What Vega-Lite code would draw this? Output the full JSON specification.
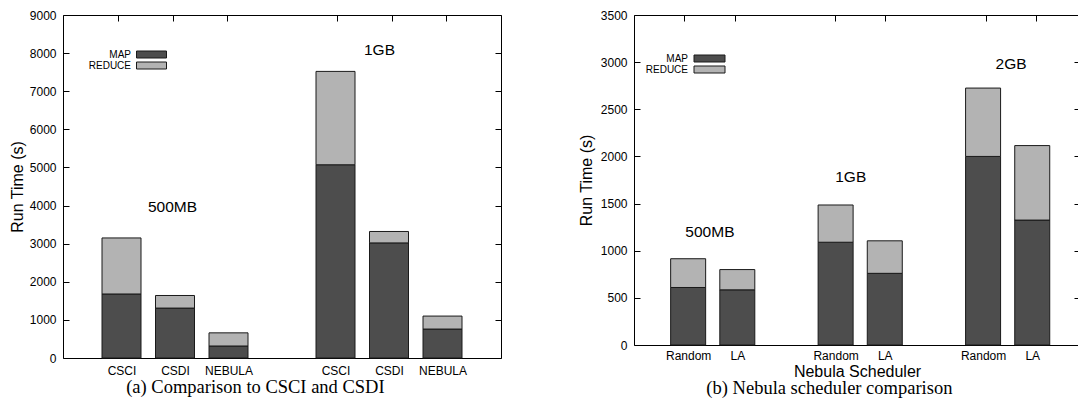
{
  "$schema": "https://vega.github.io/schema/vega-lite/v6.json",
  "background": "white",
  "padding": {"left": 8, "top": 8, "right": 1, "bottom": 0},
  "spacing": 75,
  "config": {
    "view": {"stroke": "black", "strokeWidth": 1},
    "font": "Liberation Sans",
    "axis": {
      "grid": false, "domain": false, "tickColor": "black", "tickSize": 6, "offset": -6, "labelPadding": 7, "format": "d",
      "labelFont": "Liberation Sans", "labelFontSize": 12, "labelColor": "black",
      "titleFont": "Liberation Sans", "titleFontSize": 16, "titleFontWeight": "normal", "titleColor": "black"
    },
    "title": {"font": "Liberation Serif", "fontSize": 18.5, "fontWeight": "normal", "color": "black", "orient": "bottom", "offset": 2, "frame": "bounds"}
  },
  "datasets": {
    "a": [
      {"pos": 0, "method": "CSCI", "size": "500MB", "phase": "MAP", "time": 1680},
      {"pos": 0, "method": "CSCI", "size": "500MB", "phase": "REDUCE", "time": 1470},
      {"pos": 1, "method": "CSDI", "size": "500MB", "phase": "MAP", "time": 1310},
      {"pos": 1, "method": "CSDI", "size": "500MB", "phase": "REDUCE", "time": 330},
      {"pos": 2, "method": "NEBULA", "size": "500MB", "phase": "MAP", "time": 315},
      {"pos": 2, "method": "NEBULA", "size": "500MB", "phase": "REDUCE", "time": 345},
      {"pos": 4, "method": "CSCI", "size": "1GB", "phase": "MAP", "time": 5070},
      {"pos": 4, "method": "CSCI", "size": "1GB", "phase": "REDUCE", "time": 2450},
      {"pos": 5, "method": "CSDI", "size": "1GB", "phase": "MAP", "time": 3020},
      {"pos": 5, "method": "CSDI", "size": "1GB", "phase": "REDUCE", "time": 300},
      {"pos": 6, "method": "NEBULA", "size": "1GB", "phase": "MAP", "time": 760},
      {"pos": 6, "method": "NEBULA", "size": "1GB", "phase": "REDUCE", "time": 340}
    ],
    "aLabels": [
      {"pos": 1, "time": 3950, "label": "500MB"},
      {"pos": 4.78, "time": 8090, "label": "1GB"}
    ],
    "b": [
      {"pos": 0, "method": "Random", "size": "500MB", "phase": "MAP", "time": 610},
      {"pos": 0, "method": "Random", "size": "500MB", "phase": "REDUCE", "time": 305},
      {"pos": 1, "method": "LA", "size": "500MB", "phase": "MAP", "time": 585},
      {"pos": 1, "method": "LA", "size": "500MB", "phase": "REDUCE", "time": 215},
      {"pos": 3, "method": "Random", "size": "1GB", "phase": "MAP", "time": 1090},
      {"pos": 3, "method": "Random", "size": "1GB", "phase": "REDUCE", "time": 395},
      {"pos": 4, "method": "LA", "size": "1GB", "phase": "MAP", "time": 760},
      {"pos": 4, "method": "LA", "size": "1GB", "phase": "REDUCE", "time": 345},
      {"pos": 6, "method": "Random", "size": "2GB", "phase": "MAP", "time": 2000},
      {"pos": 6, "method": "Random", "size": "2GB", "phase": "REDUCE", "time": 725},
      {"pos": 7, "method": "LA", "size": "2GB", "phase": "MAP", "time": 1325},
      {"pos": 7, "method": "LA", "size": "2GB", "phase": "REDUCE", "time": 790}
    ],
    "bLabels": [
      {"pos": 0.51, "time": 1200, "label": "500MB"},
      {"pos": 3.31, "time": 1780, "label": "1GB"},
      {"pos": 6.5, "time": 2985, "label": "2GB"}
    ]
  },
  "hconcat": [
    {
      "width": 438, "height": 343,
      "title": {"text": "(a) Comparison to CSCI and CSDI"},
      "layer": [
        {
          "data": {"name": "a"},
          "mark": {"type": "bar", "size": 39, "stroke": "#1a1a1a", "strokeWidth": 1},
          "encoding": {
            "x": {"field": "pos", "type": "quantitative", "scale": {"domain": [-1, 7], "nice": false, "zero": false},
                  "axis": {"title": null, "labelPadding": 7, "values": [0, 1, 2, 4, 5, 6], "labelExpr": "datum.value == 0 || datum.value == 4 ? 'CSCI' : datum.value == 1 || datum.value == 5 ? 'CSDI' : 'NEBULA'"}},
            "y": {"field": "time", "type": "quantitative", "stack": "zero", "scale": {"domain": [0, 9000], "nice": false},
                  "axis": {"title": "Run Time (s)", "values": [0, 1000, 2000, 3000, 4000, 5000, 6000, 7000, 8000, 9000], "titlePadding": 4}},
            "color": {"field": "phase", "type": "nominal", "scale": {"domain": ["MAP", "REDUCE"], "range": ["#4d4d4d", "#b3b3b3"]},
                      "legend": {"title": null, "orient": "none", "legendX": 83, "legendY": 34, "symbolType": "M-3,-0.7H3V0.7H-3Z", "symbolSize": 100,
                                 "symbolStrokeColor": "#1a1a1a", "symbolStrokeWidth": 1, "labelAlign": "right", "labelOffset": -26,
                                 "labelFontSize": 10, "labelFont": "Liberation Sans", "labelColor": "black", "rowPadding": 0, "symbolOffset": 0, "padding": 0}},
            "order": {"field": "phase", "sort": "ascending"}
          }
        },
        {
          "data": {"name": "aLabels"},
          "mark": {"type": "text", "fontSize": 15.5, "font": "Liberation Sans", "baseline": "middle", "align": "center", "color": "black"},
          "encoding": {
            "x": {"field": "pos", "type": "quantitative", "scale": {"domain": [-1, 7], "nice": false, "zero": false},
                  "axis": {"orient": "top", "values": [0, 1, 2, 4, 5, 6], "labels": false, "title": null}},
            "y": {"field": "time", "type": "quantitative", "scale": {"domain": [0, 9000], "nice": false},
                  "axis": {"orient": "right", "values": [0, 1000, 2000, 3000, 4000, 5000, 6000, 7000, 8000, 9000], "labels": false, "title": null}},
            "text": {"field": "label"}
          }
        }
      ],
      "resolve": {"scale": {"x": "independent", "y": "independent"}, "axis": {"x": "independent", "y": "independent"}}
    },
    {
      "width": 446, "height": 330,
      "title": {"text": "(b) Nebula scheduler comparison", "offset": 0},
      "layer": [
        {
          "data": {"name": "b"},
          "mark": {"type": "bar", "size": 35, "stroke": "#1a1a1a", "strokeWidth": 1},
          "encoding": {
            "x": {"field": "pos", "type": "quantitative", "scale": {"domain": [-1, 7.87], "nice": false, "zero": false},
                  "axis": {"title": "Nebula Scheduler", "titlePadding": 2, "labelPadding": 5, "values": [0, 1, 3, 4, 6, 7], "labelExpr": "datum.value == 0 || datum.value == 3 || datum.value == 6 ? 'Random' : 'LA'"}},
            "y": {"field": "time", "type": "quantitative", "stack": "zero", "scale": {"domain": [0, 3500], "nice": false},
                  "axis": {"title": "Run Time (s)", "values": [0, 500, 1000, 1500, 2000, 2500, 3000, 3500], "titlePadding": 6}},
            "color": {"field": "phase", "type": "nominal", "scale": {"domain": ["MAP", "REDUCE"], "range": ["#4d4d4d", "#b3b3b3"]},
                      "legend": {"title": null, "orient": "none", "legendX": 70, "legendY": 38, "symbolType": "M-3.1,-0.7H3.1V0.7H-3.1Z", "symbolSize": 100,
                                 "symbolStrokeColor": "#1a1a1a", "symbolStrokeWidth": 1, "labelAlign": "right", "labelOffset": -27,
                                 "labelFontSize": 10, "labelFont": "Liberation Sans", "labelColor": "black", "rowPadding": 0, "symbolOffset": 0, "padding": 0}},
            "order": {"field": "phase", "sort": "ascending"}
          }
        },
        {
          "data": {"name": "bLabels"},
          "mark": {"type": "text", "fontSize": 15.5, "font": "Liberation Sans", "baseline": "middle", "align": "center", "color": "black"},
          "encoding": {
            "x": {"field": "pos", "type": "quantitative", "scale": {"domain": [-1, 7.87], "nice": false, "zero": false},
                  "axis": {"orient": "top", "values": [0, 1, 3, 4, 6, 7], "labels": false, "title": null}},
            "y": {"field": "time", "type": "quantitative", "scale": {"domain": [0, 3500], "nice": false},
                  "axis": {"orient": "right", "values": [0, 500, 1000, 1500, 2000, 2500, 3000, 3500], "labels": false, "title": null}},
            "text": {"field": "label"}
          }
        }
      ],
      "resolve": {"scale": {"x": "independent", "y": "independent", "color": "independent"}, "axis": {"x": "independent", "y": "independent"}}
    }
  ],
  "resolve": {"legend": {"color": "independent"}, "scale": {"color": "independent"}}
}
